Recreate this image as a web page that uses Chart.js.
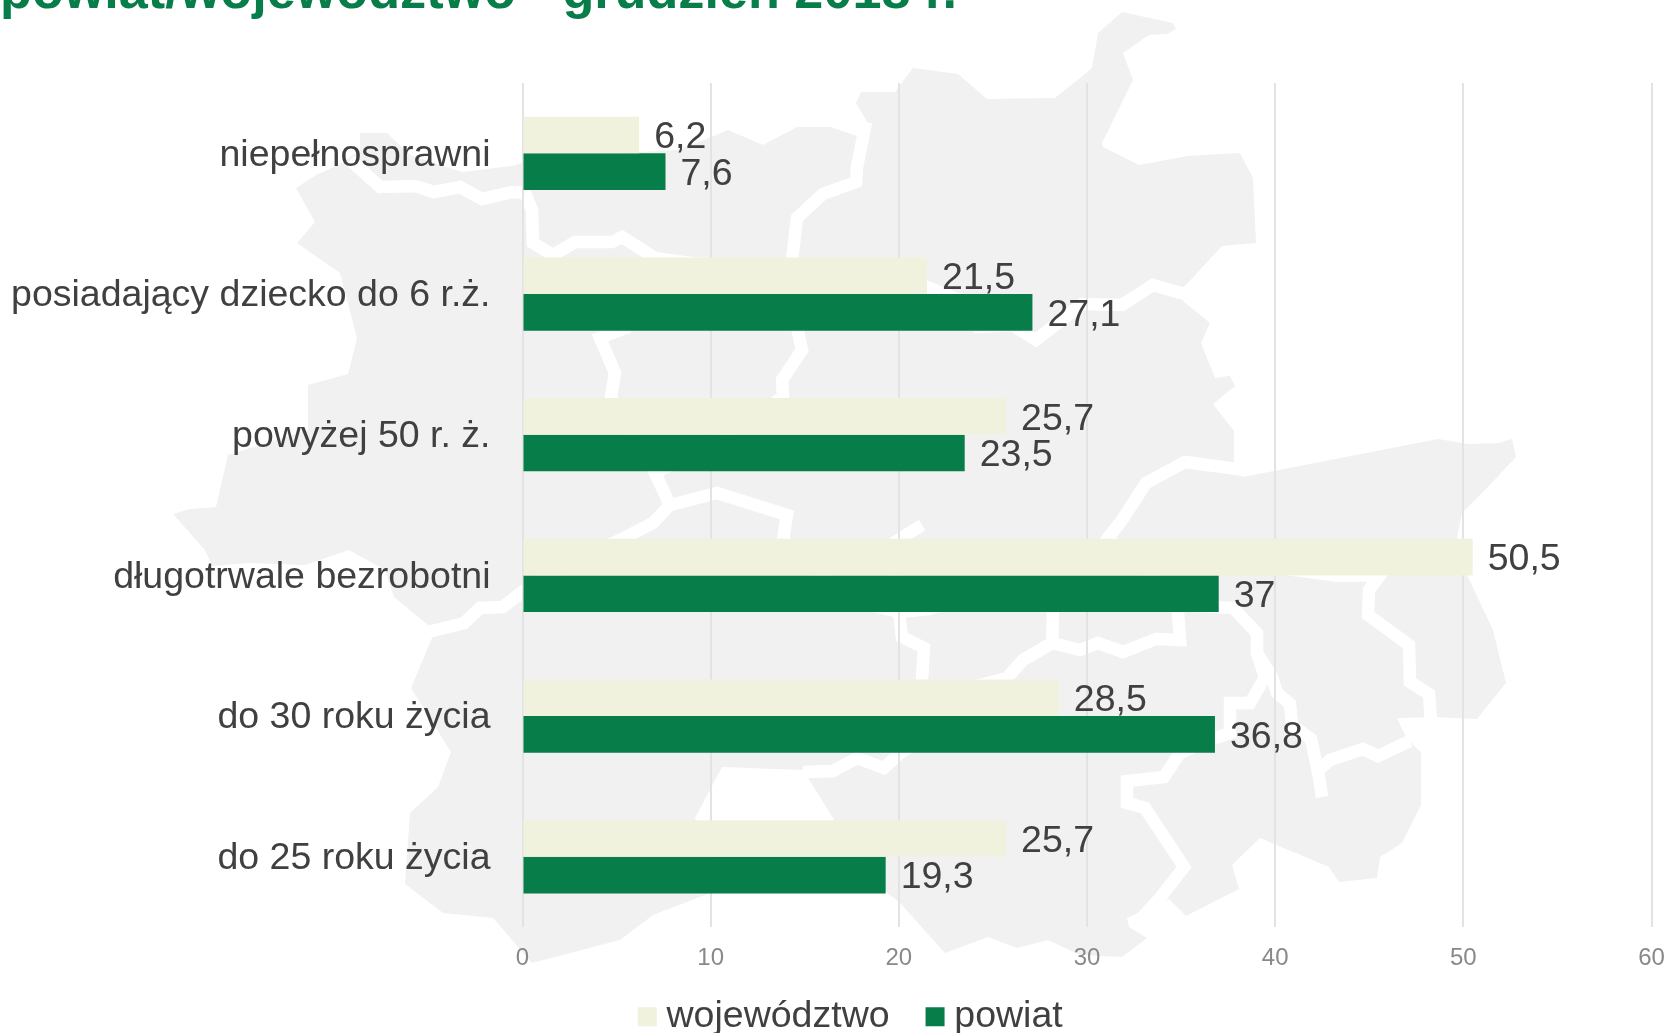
<!DOCTYPE html>
<html lang="pl">
<head>
<meta charset="utf-8">
<title>powiat/województwo</title>
<style>
html,body{margin:0;padding:0;background:#fff;overflow:hidden}
#wrap{position:relative;width:1667px;height:1033px}
#map{position:absolute;left:0;top:0}
#chart{position:absolute;left:0;top:0}
</style>
</head>
<body>
<div id="wrap">
<svg id="map" width="1667" height="1033" viewBox="0 0 1667 1033" xmlns="http://www.w3.org/2000/svg">
<polygon fill="#f1f1f1" points="296,188 316,175 339,165 360,150 360,133 387,133 410,155 462,172 512,166 522,163 640,152 676,150 697,143 728,130 763,145 797,127 830,127 857,136 869,125 856,103 861,92 895,92 913,68 958,74 987,99 1055,98 1080,78 1092,68 1098,33 1122,12 1173,23 1176,29 1167,34 1149,35 1123,53 1133,80 1102,143 1103,147 1139,165 1188,156 1240,153 1253,178 1256,243 1222,246 1184,287 1183,301 1210,323 1201,343 1215,378 1230,376 1235,386 1213,404 1234,431 1234,463 1243,477 1438,439 1468,444 1499,443 1512,439 1516,457 1485,490 1462,513 1457,537 1467,575 1493,630 1506,683 1477,719 1435,717 1397,718 1405,735 1415,747 1421,752 1421,805 1402,843 1380,857 1377,878 1339,882 1329,867 1260,838 1232,865 1239,889 1186,916 1169,899 1127,918 1129,927 1147,938 1122,957 1080,955 1048,940 1017,948 988,937 945,953 899,902 887,893 833,818 803,770 722,767 695,818 710,893 653,915 620,940 532,963 493,918 443,913 405,884 410,813 438,787 451,752 411,688 432,638 428,625 394,597 385,570 349,550 305,565 250,563 212,566 205,550 173,514 190,509 216,507 228,455 308,430 308,385 348,374 357,338 340,273 297,243 315,222"/>
<g fill="none" stroke="#fff" stroke-width="12.5" stroke-linejoin="miter">
<polyline points="350,160 380,187 415,186 434,192 460,187 482,199 512,192 525,193 532,210 533,243 553,255 575,242 612,242 622,237 655,258 690,263 800,270 927,287 960,300 978,327 1012,325 1036,340 1082,304 1122,305 1153,285 1184,294 1205,280"/>
<polyline points="866,122 857,167 856,182 823,194 797,218 792,260 798,332 802,350 782,380 783,397 720,440 655,473 670,505"/>
<polyline points="625,290 625,328 600,338 615,373 611,397 640,450"/>
<polyline points="420,634 464,623 480,608 503,607 522,592 547,575 620,540 653,523 670,505 717,493 787,515 783,540 850,600 899,612"/>
<polyline points="922,525 895,542 899,613 902,637 924,648 922,678 920,740 900,753 884,768 857,758 833,771 803,772"/>
<polyline points="899,612 928,609 960,600 1052,600 1053,612 1052,643 1023,660 1007,678 922,700"/>
<polyline points="1052,643 1080,650 1098,643 1123,652 1156,639 1180,640 1178,613 1178,600"/>
<polyline points="1245,470 1185,462 1146,483 1135,500 1122,520 1108,538 1150,575 1178,605 1233,608 1257,633 1257,653 1272,677 1277,693 1290,704 1292,725 1311,739 1319,777 1322,797"/>
<polyline points="1257,653 1265,677 1250,703 1230,703 1230,733 1215,738 1180,753 1164,777 1127,781 1127,803 1145,808 1184,867 1160,898 1135,925"/>
<polyline points="1319,770 1330,760 1363,749 1378,756 1410,741"/>
<polyline points="1220,560 1287,569 1340,576 1380,575 1369,590 1368,615 1409,645 1410,682 1429,694 1431,722"/>
</g>
</svg>
<canvas id="chart" width="1667" height="1033"></canvas>
</div>
<script src="https://cdn.jsdelivr.net/npm/chart.js@4/dist/chart.umd.min.js"></script>
<script>
const categories = ["niepełnosprawni","posiadający dziecko do 6 r.ż.","powyżej 50 r. ż.","długotrwale bezrobotni","do 30 roku życia","do 25 roku życia"];
const wojewodztwo = [6.2,21.5,25.7,50.5,28.5,25.7];
const powiat = [7.6,27.1,23.5,37,36.8,19.3];
const seriesNames = ["województwo","powiat"];
const titleText = "powiat/województwo - grudzień 2018 r.";

const FONT = "'Liberation Sans', Arial, sans-serif";
const TEXT = "#404040";

const valueLabels = {
  id:"valueLabels",
  afterDatasetsDraw(chart){
    const c = chart.ctx;
    c.save();
    c.font = "37.5px " + FONT;
    c.fillStyle = TEXT;
    c.textAlign = "left";
    c.textBaseline = "middle";
    chart.data.datasets.forEach((ds,i)=>{
      chart.getDatasetMeta(i).data.forEach((bar,j)=>{
        c.fillText(String(ds.data[j]).replace(".",","), bar.x + 15, bar.y + 3);
      });
    });
    c.restore();
  }
};
const legendPlace = {
  id:"legendPlace",
  afterLayout(chart){ chart.legend.left = 58; chart.legend.top = 953; }
};

new Chart(document.getElementById("chart"),{
  type:"bar",
  data:{labels:categories,datasets:[
    {label:seriesNames[0],data:wojewodztwo,backgroundColor:"#f1f2de",categoryPercentage:0.5206,barPercentage:1},
    {label:seriesNames[1],data:powiat,backgroundColor:"#077d4a",categoryPercentage:0.5206,barPercentage:1}
  ]},
  plugins:[valueLabels,legendPlace],
  options:{
    indexAxis:"y",
    responsive:false,
    animation:false,
    layout:{padding:{left:0,right:15.5,top:0,bottom:-46.6}},
    plugins:{
      tooltip:{enabled:false},
      title:{display:true,text:titleText,align:"start",color:"#077d4a",
        font:{family:FONT,size:52.2,weight:"bold",lineHeight:1},
        padding:{top:-32,bottom:62.8}},
      legend:{position:"bottom",align:"center",
        labels:{color:TEXT,font:{family:FONT,size:37.5},boxWidth:1,boxHeight:1,padding:45,
          generateLabels(chart){
            return chart.data.datasets.map((d,i)=>({text:d.label,fillStyle:d.backgroundColor,strokeStyle:d.backgroundColor,lineWidth:18,datasetIndex:i,fontColor:TEXT}));
          }}}
    },
    scales:{
      x:{min:0,max:60,ticks:{stepSize:10,color:"#898989",font:{family:FONT,size:24},padding:17,maxRotation:0},
        grid:{color:"#e3e3e3",lineWidth:2,drawTicks:false},border:{display:false},
        afterFit(s){s.height=60;s.paddingLeft=0;s.paddingRight=0;}},
      y:{ticks:{color:TEXT,font:{family:FONT,size:37.5},padding:24,autoSkip:false,labelOffset:2},
        grid:{display:false},border:{display:false},
        afterFit(s){s.width=522.5;}}
    }
  }
});
</script>
</body>
</html>
